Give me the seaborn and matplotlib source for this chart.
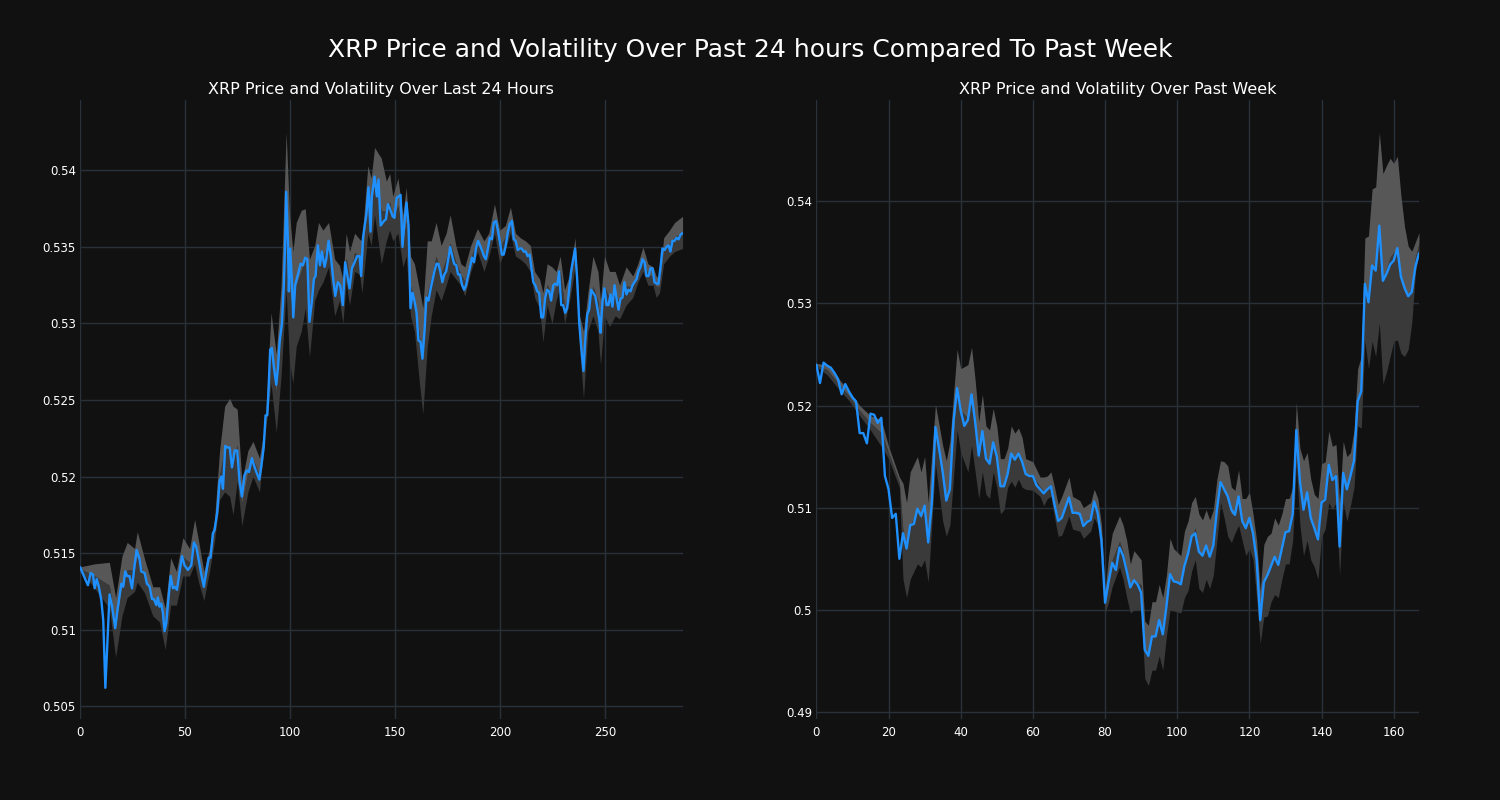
import numpy as np
import matplotlib
matplotlib.use("Agg")
import matplotlib.pyplot as plt
import seaborn as sns
from matplotlib.ticker import FuncFormatter

# ---------------- data: last 24 hours (5-minute steps) ----------------
day_x = [0.0, 3.8, 5.1, 6.2, 7.0, 8.0, 9.0, 10.2, 11.1, 12.1, 13.0, 14.1, 15.2, 16.8, 18.0,
         19.7, 20.6, 21.6, 22.5, 23.6, 24.8, 26.0, 27.0, 28.4, 29.2, 30.8, 31.9, 33.2, 34.3,
         35.2, 36.4, 37.1, 37.9, 38.7, 39.5, 40.3, 41.1, 42.2, 43.2, 44.3, 45.1, 46.2, 47.5,
         48.6, 49.8, 51.4, 53.0, 54.3, 55.4, 56.5, 57.8, 59.0, 60.2, 61.3, 62.2, 63.3, 64.1,
         65.4, 66.5, 67.3, 68.1, 69.2, 70.2, 71.3, 72.4, 73.7, 74.9, 76.0, 77.1, 78.4, 79.4,
         80.5, 81.9, 83.2, 84.3, 85.4, 86.4, 87.5, 88.4, 89.2, 89.8, 90.6, 91.4, 92.4, 93.5,
         94.3, 95.1, 96.2, 97.1, 97.8, 98.2, 99.0, 99.5, 100.1, 100.9, 101.6, 102.5, 103.8,
         105.1, 106.2, 107.3, 108.3, 109.3, 110.5, 111.4, 112.2, 113.3, 114.3, 115.2, 116.5,
         117.3, 118.4, 119.6, 120.6, 121.6, 122.8, 123.9, 125.2, 126.3, 127.3, 128.4, 129.5,
         130.8, 132.0, 133.2, 133.9, 134.8, 135.6, 136.4, 137.4, 138.4, 139.0, 140.3, 141.4,
         142.2, 143.2, 144.8, 145.7, 146.7, 147.9, 148.9, 149.8, 150.8, 151.7, 152.7, 153.6,
         154.6, 155.5, 156.5, 157.4, 158.4, 159.3, 160.3, 161.2, 162.2, 163.1, 164.1, 165.0,
         166.0, 166.9, 168.0, 168.8, 169.8, 170.7, 171.6, 172.6, 173.5, 174.4, 175.4, 176.3,
         177.3, 178.2, 179.2, 180.1, 181.0, 182.0, 183.0, 183.9, 184.8, 185.8, 186.7, 187.7,
         188.6, 189.6, 190.5, 191.4, 192.4, 193.3, 194.3, 195.2, 196.2, 197.1, 198.1, 199.0,
         199.9, 200.9, 201.8, 202.8, 203.7, 204.7, 205.7, 206.6, 207.5, 208.5, 209.4, 210.4,
         211.3, 212.3, 213.2, 214.2, 215.9, 216.8, 217.8, 218.7, 219.7, 220.6, 221.6, 222.5,
         223.5, 224.4, 225.4, 226.3, 227.3, 228.2, 229.2, 230.1, 231.1, 232.0, 233.0, 233.9,
         234.9, 235.8, 236.8, 237.8, 238.7, 239.8, 240.6, 241.6, 242.5, 243.5, 244.4, 245.4,
         246.3, 247.3, 247.9, 248.9, 249.8, 250.8, 251.7, 252.7, 253.6, 254.6, 255.5, 256.5,
         257.4, 258.4, 259.3, 260.3, 261.2, 262.2, 263.2, 264.1, 265.1, 266.0, 267.0, 267.9,
         268.9, 269.8, 270.8, 271.7, 272.7, 273.6, 274.6, 275.5, 276.5, 277.4, 278.4, 279.3,
         280.3, 281.2, 282.2, 283.2, 284.1, 285.1, 286.0, 287.0]
day_price = [0.5141, 0.5129, 0.5137, 0.5136, 0.5127, 0.5133, 0.5128, 0.5119, 0.5106, 0.5062,
             0.5089, 0.5123, 0.5116, 0.5101, 0.5114, 0.5130, 0.5128, 0.5138, 0.5135, 0.5135,
             0.5127, 0.5142, 0.5152, 0.5146, 0.5138, 0.5137, 0.5130, 0.5128, 0.5120, 0.5120,
             0.5116, 0.5121, 0.5115, 0.5117, 0.5111, 0.5099, 0.5104, 0.5121, 0.5135, 0.5127,
             0.5128, 0.5126, 0.5138, 0.5148, 0.5142, 0.5139, 0.5142, 0.5157, 0.5154, 0.5146,
             0.5136, 0.5128, 0.5138, 0.5147, 0.5147, 0.5163, 0.5165, 0.5177, 0.5197, 0.5200,
             0.5192, 0.5220, 0.5219, 0.5219, 0.5206, 0.5217, 0.5217, 0.5197, 0.5187, 0.5201,
             0.5204, 0.5203, 0.5212, 0.5206, 0.5202, 0.5198, 0.5207, 0.5219, 0.5240, 0.5240,
             0.5256, 0.5283, 0.5284, 0.5271, 0.5260, 0.5271, 0.5288, 0.5300, 0.5325, 0.5356,
             0.5386, 0.5356, 0.5321, 0.5349, 0.5329, 0.5304, 0.5325, 0.5332, 0.5339, 0.5338,
             0.5343, 0.5342, 0.5301, 0.5315, 0.5329, 0.5331, 0.5351, 0.5338, 0.5347, 0.5337,
             0.5342, 0.5354, 0.5343, 0.5329, 0.5318, 0.5327, 0.5325, 0.5312, 0.5340, 0.5332,
             0.5323, 0.5336, 0.5340, 0.5344, 0.5344, 0.5331, 0.5356, 0.5364, 0.5371, 0.5389,
             0.5360, 0.5383, 0.5396, 0.5383, 0.5394, 0.5364, 0.5367, 0.5368, 0.5378, 0.5374,
             0.5370, 0.5369, 0.5382, 0.5383, 0.5384, 0.5350, 0.5367, 0.5379, 0.5364, 0.5310,
             0.5320, 0.5315, 0.5307, 0.5289, 0.5288, 0.5277, 0.5295, 0.5317, 0.5315, 0.5322,
             0.5329, 0.5334, 0.5339, 0.5339, 0.5334, 0.5327, 0.5332, 0.5334, 0.5342, 0.5350,
             0.5344, 0.5339, 0.5338, 0.5332, 0.5332, 0.5325, 0.5322, 0.5325, 0.5331, 0.5337,
             0.5343, 0.5340, 0.5349, 0.5354, 0.5351, 0.5348, 0.5344, 0.5342, 0.5349, 0.5356,
             0.5355, 0.5366, 0.5367, 0.5361, 0.5354, 0.5345, 0.5345, 0.5351, 0.5359, 0.5365,
             0.5367, 0.5355, 0.5354, 0.5348, 0.5349, 0.5349, 0.5347, 0.5347, 0.5344, 0.5345,
             0.5327, 0.5325, 0.5321, 0.5320, 0.5304, 0.5304, 0.5317, 0.5322, 0.5321, 0.5315,
             0.5325, 0.5326, 0.5325, 0.5334, 0.5312, 0.5312, 0.5307, 0.5310, 0.5322, 0.5334,
             0.5342, 0.5349, 0.5329, 0.5300, 0.5285, 0.5269, 0.5288, 0.5306, 0.5309, 0.5322,
             0.5320, 0.5318, 0.5311, 0.5303, 0.5294, 0.5315, 0.5323, 0.5312, 0.5312, 0.5319,
             0.5311, 0.5325, 0.5317, 0.5309, 0.5316, 0.5317, 0.5327, 0.5319, 0.5322, 0.5321,
             0.5325, 0.5327, 0.5329, 0.5334, 0.5337, 0.5342, 0.5340, 0.5331, 0.5331, 0.5336,
             0.5336, 0.5327, 0.5326, 0.5326, 0.5337, 0.5349, 0.5348, 0.5350, 0.5351, 0.5347,
             0.5354, 0.5354, 0.5356, 0.5355, 0.5358, 0.5359]
day_band_x = [0, 7, 14, 17, 20, 22.5, 26, 27.3, 30.8, 34.7, 37.9, 40.6, 43.2, 45.9, 49, 52.2,
              54.6, 56.5, 59, 61.7, 64.1, 66.5, 68.9, 71.3, 72.9, 74.9, 77.1, 80, 82.4, 85.5,
              88.3, 91, 93.5, 95.8, 98.2, 99.8, 101.4, 103, 105.4, 107.3, 109.3, 111.8, 113.6,
              115.7, 118.4, 121.3, 123.6, 125.2, 126.8, 128.4, 130.8, 133.2, 134.3, 137.1,
              138.7, 140.3, 143.5, 145.9, 147.5, 149.0, 151.4, 153.8, 155.4, 157.4, 159.3,
              161.7, 163.3, 165.4, 167.3, 169.6, 172, 174.4, 176.3, 179, 181.4, 183.3, 186.1,
              189.3, 192.4, 194.7, 197.4, 199.9, 202.6, 205, 207.4, 209.7, 212.1, 214.5,
              216.5, 218.9, 220.5, 222.5, 224.8, 226.8, 228.7, 230.8, 233.2, 235.8, 237.9,
              239.8, 241.9, 244.3, 246.7, 247.9, 249.8, 252.2, 254.9, 257, 260.1, 263.3,
              265.7, 268.1, 270.5, 272.9, 274.4, 276, 278, 280.8, 283.2, 287]
day_band_upper = [0.5141, 0.5143, 0.5144, 0.5121, 0.5148, 0.5157, 0.5153, 0.5164, 0.5146, 0.5128,
                  0.5128, 0.5114, 0.5147, 0.5138, 0.5160, 0.5153, 0.5172, 0.5158, 0.5138, 0.5153,
                  0.5172, 0.5217, 0.5246, 0.5251, 0.5246, 0.5244, 0.5197, 0.5217, 0.5223, 0.5212,
                  0.5236, 0.5307, 0.5280, 0.5325, 0.5425, 0.5371, 0.5347, 0.5366, 0.5374, 0.5375,
                  0.5342, 0.5351, 0.5366, 0.5361, 0.5366, 0.5342, 0.5338, 0.5329, 0.5359, 0.5347,
                  0.5359, 0.5355, 0.5354, 0.5403, 0.5395, 0.5415, 0.5408, 0.5393, 0.5398, 0.5383,
                  0.5395, 0.5371, 0.5389, 0.5344, 0.5339, 0.5322, 0.5310, 0.5354, 0.5354, 0.5366,
                  0.5351, 0.5359, 0.5371, 0.5351, 0.5339, 0.5337, 0.5351, 0.5362, 0.5354, 0.5359,
                  0.5378, 0.5361, 0.5364, 0.5376, 0.5359, 0.5356, 0.5354, 0.5351, 0.5334, 0.5329,
                  0.5320, 0.5339, 0.5337, 0.5334, 0.5344, 0.5322, 0.5332, 0.5356, 0.5305, 0.5295,
                  0.5320, 0.5344, 0.5334, 0.5315, 0.5344, 0.5334, 0.5334, 0.5325, 0.5337, 0.5331,
                  0.5339, 0.5350, 0.5339, 0.5337, 0.5331, 0.5329, 0.5356, 0.5361, 0.5366, 0.5370]
day_band_lower = [0.5139, 0.5127, 0.5114, 0.5082, 0.5109, 0.5121, 0.5125, 0.5131, 0.5124, 0.5109,
                  0.5105, 0.5087, 0.5116, 0.5116, 0.5135, 0.5135, 0.5143, 0.5131, 0.5119, 0.5138,
                  0.5158, 0.5185, 0.5190, 0.5187, 0.5175, 0.5197, 0.5168, 0.5190, 0.5200, 0.5190,
                  0.5229, 0.5261, 0.5229, 0.5266, 0.5322, 0.5275, 0.5261, 0.5285, 0.5295, 0.5310,
                  0.5278, 0.5315, 0.5322, 0.5327, 0.5337, 0.5305, 0.5315, 0.5300, 0.5327, 0.5312,
                  0.5334, 0.5332, 0.5320, 0.5359, 0.5351, 0.5371, 0.5339, 0.5354, 0.5361, 0.5354,
                  0.5359, 0.5337, 0.5344, 0.5305, 0.5295, 0.5261, 0.5241, 0.5285, 0.5305, 0.5322,
                  0.5315, 0.5325, 0.5334, 0.5329, 0.5325, 0.5318, 0.5334, 0.5347, 0.5334, 0.5344,
                  0.5359, 0.5339, 0.5349, 0.5359, 0.5344, 0.5342, 0.5339, 0.5334, 0.5317, 0.5310,
                  0.5288, 0.5312, 0.5300, 0.5315, 0.5325, 0.5300, 0.5315, 0.5337, 0.5285, 0.5251,
                  0.5295, 0.5305, 0.5295, 0.5273, 0.5305, 0.5298, 0.5305, 0.5303, 0.5312, 0.5317,
                  0.5327, 0.5334, 0.5325, 0.5325, 0.5317, 0.5320, 0.5339, 0.5344, 0.5347, 0.5349]

# ---------------- data: past week (hourly) ----------------
week_x = list(range(168))
week_price = [0.5240, 0.5222, 0.5242, 0.5239, 0.5237, 0.5232, 0.5226, 0.5211, 0.5221, 0.5214,
              0.5208, 0.5204, 0.5173, 0.5173, 0.5163, 0.5192, 0.5191, 0.5183, 0.5188, 0.5131,
              0.5118, 0.5090, 0.5094, 0.5050, 0.5075, 0.5060, 0.5083, 0.5084, 0.5099, 0.5092,
              0.5102, 0.5066, 0.5105, 0.5179, 0.5158, 0.5135, 0.5107, 0.5118, 0.5184, 0.5217,
              0.5195, 0.5180, 0.5186, 0.5211, 0.5184, 0.5151, 0.5175, 0.5148, 0.5143, 0.5164,
              0.5150, 0.5121, 0.5121, 0.5133, 0.5153, 0.5147, 0.5153, 0.5145, 0.5133, 0.5131,
              0.5131, 0.5122, 0.5118, 0.5114, 0.5118, 0.5121, 0.5103, 0.5087, 0.5090, 0.5100,
              0.5110, 0.5095, 0.5095, 0.5094, 0.5082, 0.5086, 0.5088, 0.5106, 0.5094, 0.5068,
              0.5007, 0.5028, 0.5046, 0.5039, 0.5061, 0.5053, 0.5038, 0.5022, 0.5029, 0.5025,
              0.5017, 0.4961, 0.4955, 0.4974, 0.4974, 0.4990, 0.4976, 0.5003, 0.5035, 0.5028,
              0.5027, 0.5025, 0.5043, 0.5055, 0.5072, 0.5075, 0.5057, 0.5053, 0.5063, 0.5052,
              0.5063, 0.5098, 0.5125, 0.5118, 0.5111, 0.5098, 0.5093, 0.5111, 0.5087, 0.5080,
              0.5090, 0.5075, 0.5049, 0.4990, 0.5027, 0.5034, 0.5043, 0.5052, 0.5044, 0.5060,
              0.5076, 0.5077, 0.5094, 0.5176, 0.5126, 0.5098, 0.5115, 0.5090, 0.5080, 0.5069,
              0.5105, 0.5108, 0.5142, 0.5127, 0.5131, 0.5062, 0.5134, 0.5118, 0.5131, 0.5146,
              0.5204, 0.5214, 0.5319, 0.5301, 0.5337, 0.5332, 0.5376, 0.5322, 0.5329, 0.5338,
              0.5342, 0.5354, 0.5326, 0.5315, 0.5307, 0.5311, 0.5336, 0.5349]
week_band_x = [0, 3, 6, 9, 12, 15, 18, 20, 23, 24, 25, 26, 28, 29, 30, 31, 33, 35, 36, 37, 39,
               40, 42, 43, 44, 45, 46, 47, 48, 49, 50, 51, 52, 53, 54, 55, 56, 57, 58, 60, 62,
               63, 64, 65, 66, 67, 68, 70, 71, 73, 74, 76, 77, 78, 79, 80, 81, 82, 84, 85, 86,
               87, 88, 90, 91, 92, 93, 94, 95, 96, 97, 98, 99, 101, 102, 103, 104, 105, 106,
               107, 108, 109, 110, 111, 112, 113, 114, 115, 116, 117, 118, 119, 120, 121, 122,
               123, 124, 125, 126, 127, 128, 129, 130, 131, 132, 133, 134, 135, 136, 137, 138,
               139, 140, 141, 142, 143, 144, 145, 146, 147, 148, 149, 150, 151, 152, 153, 154,
               155, 156, 157, 158, 159, 160, 161, 162, 163, 164, 165, 166, 167]
week_band_upper = [0.5241, 0.5240, 0.5227, 0.5214, 0.5200, 0.5190, 0.5186, 0.5160, 0.5130,
                   0.5124, 0.5105, 0.5135, 0.5150, 0.5135, 0.5150, 0.5105, 0.5201, 0.5161,
                   0.5146, 0.5165, 0.5255, 0.5236, 0.5240, 0.5257, 0.5225, 0.5184, 0.5211,
                   0.5180, 0.5176, 0.5197, 0.5180, 0.5148, 0.5148, 0.5158, 0.5180, 0.5173,
                   0.5178, 0.5169, 0.5148, 0.5145, 0.5130, 0.5130, 0.5131, 0.5135, 0.5120,
                   0.5103, 0.5111, 0.5130, 0.5111, 0.5107, 0.5100, 0.5105, 0.5118, 0.5109,
                   0.5083, 0.5019, 0.5053, 0.5075, 0.5092, 0.5083, 0.5068, 0.5045, 0.5058,
                   0.5049, 0.4989, 0.4985, 0.5008, 0.5008, 0.5025, 0.5012, 0.5034, 0.5070,
                   0.5060, 0.5053, 0.5077, 0.5087, 0.5105, 0.5111, 0.5094, 0.5088, 0.5098,
                   0.5088, 0.5098, 0.5128, 0.5146, 0.5145, 0.5141, 0.5120, 0.5117, 0.5137,
                   0.5109, 0.5109, 0.5115, 0.5094, 0.5068, 0.5019, 0.5064, 0.5072, 0.5075,
                   0.5090, 0.5083, 0.5094, 0.5109, 0.5109, 0.5120, 0.5203, 0.5158, 0.5146,
                   0.5154, 0.5128, 0.5113, 0.5109, 0.5143, 0.5145, 0.5175, 0.5160, 0.5162,
                   0.5105, 0.5165, 0.5150, 0.5154, 0.5176, 0.5236, 0.5248, 0.5364, 0.5366,
                   0.5412, 0.5414, 0.5467, 0.5427, 0.5435, 0.5442, 0.5437, 0.5444, 0.5405,
                   0.5375, 0.5356, 0.5351, 0.5360, 0.5369]
week_band_lower = [0.5238, 0.5230, 0.5217, 0.5205, 0.5190, 0.5176, 0.5160, 0.5148, 0.5120,
                   0.5030, 0.5012, 0.5030, 0.5045, 0.5042, 0.5049, 0.5027, 0.5143, 0.5087,
                   0.5072, 0.5083, 0.5176, 0.5154, 0.5135, 0.5161, 0.5135, 0.5109, 0.5135,
                   0.5113, 0.5109, 0.5135, 0.5120, 0.5094, 0.5098, 0.5120, 0.5126, 0.5120,
                   0.5128, 0.5120, 0.5118, 0.5117, 0.5111, 0.5102, 0.5109, 0.5111, 0.5090,
                   0.5072, 0.5073, 0.5092, 0.5079, 0.5077, 0.5070, 0.5077, 0.5090, 0.5083,
                   0.5053, 0.4997, 0.5008, 0.5023, 0.5042, 0.5030, 0.5012, 0.4997, 0.5000,
                   0.5000, 0.4933, 0.4926, 0.4941, 0.4941, 0.4955, 0.4941, 0.4974, 0.5000,
                   0.4999, 0.4997, 0.5012, 0.5019, 0.5038, 0.5049, 0.5021, 0.5017, 0.5030,
                   0.5021, 0.5034, 0.5068, 0.5105, 0.5090, 0.5072, 0.5066, 0.5075, 0.5083,
                   0.5068, 0.5053, 0.5060, 0.5049, 0.5012, 0.4967, 0.4993, 0.4994, 0.5008,
                   0.5015, 0.5012, 0.5030, 0.5045, 0.5045, 0.5068, 0.5143, 0.5083, 0.5053,
                   0.5068, 0.5049, 0.5042, 0.5030, 0.5072, 0.5079, 0.5105, 0.5098, 0.5105,
                   0.5034, 0.5105, 0.5087, 0.5102, 0.5120, 0.5180, 0.5178, 0.5263, 0.5236,
                   0.5263, 0.5248, 0.5281, 0.5221, 0.5233, 0.5248, 0.5263, 0.5264, 0.5251,
                   0.5248, 0.5255, 0.5281, 0.5330, 0.5349]

# ---------------- text ----------------
suptitle = "XRP Price and Volatility Over Past 24 hours Compared To Past Week"
day_title = "XRP Price and Volatility Over Last 24 Hours"
week_title = "XRP Price and Volatility Over Past Week"
day_xticks = [0, 50, 100, 150, 200, 250]
day_yticks = [0.505, 0.51, 0.515, 0.52, 0.525, 0.53, 0.535, 0.54]
week_xticks = [0, 20, 40, 60, 80, 100, 120, 140, 160]
week_yticks = [0.49, 0.5, 0.51, 0.52, 0.53, 0.54]

# ---------------- style ----------------
BG = "#111111"
GRID = "#283039"
LINE = "#1e90ff"
BAND_LIGHT = "#575757"
BAND_DARK = "#3a3a3a"

sns.set_theme(style="dark")
plt.rcParams["font.family"] = ["DejaVu Sans"]
plt.rcParams.update({
    "figure.facecolor": BG,
    "axes.facecolor": BG,
    "text.color": "white",
    "xtick.color": "white",
    "ytick.color": "white",
})

fig, axes = plt.subplots(1, 2, figsize=(15, 8), dpi=100)
fig.subplots_adjust(left=0.0533, right=0.946, top=0.875, bottom=0.101, wspace=0.222)

panels = [
    (axes[0], day_x, day_price, day_band_x, day_band_upper, day_band_lower,
     day_title, day_xticks, day_yticks, (0, 287), (0.50415, 0.5446)),
    (axes[1], week_x, week_price, week_band_x, week_band_upper, week_band_lower,
     week_title, week_xticks, week_yticks, (0, 167), (0.4893, 0.5499)),
]

fmt = FuncFormatter(lambda v, p: "%g" % round(v, 4))

for ax, x, y, bx, bu, bl, title, xt, yt, xl, yl in panels:
    ax.set_facecolor(BG)
    bu_a = np.asarray(bu)
    bl_a = np.asarray(bl)
    mid = (bu_a + bl_a) / 2.0
    ax.fill_between(bx, bl_a, mid, color=BAND_DARK, linewidth=0, zorder=1)
    ax.fill_between(bx, mid, bu_a, color=BAND_LIGHT, linewidth=0, zorder=1)
    sns.lineplot(x=x, y=y, ax=ax, color=LINE, linewidth=1.7, zorder=3)
    ax.set_xlim(*xl)
    ax.set_ylim(*yl)
    ax.set_xticks(xt)
    ax.set_yticks(yt)
    ax.yaxis.set_major_formatter(fmt)
    ax.grid(True, color=GRID, linewidth=1.0, zorder=0)
    ax.set_axisbelow(True)
    for s in ax.spines.values():
        s.set_visible(False)
    ax.tick_params(axis="both", length=0, labelsize=8.5, colors="white")
    ax.tick_params(axis="y", pad=3)
    ax.tick_params(axis="x", pad=5)
    ax.set_xlabel("")
    ax.set_ylabel("")
    ax.set_title(title, color="white", fontsize=11.5, pad=4)

fig.suptitle(suptitle, color="white", fontsize=18, y=0.9375, va="center")

fig.savefig("out.png", dpi=100, facecolor=BG)
